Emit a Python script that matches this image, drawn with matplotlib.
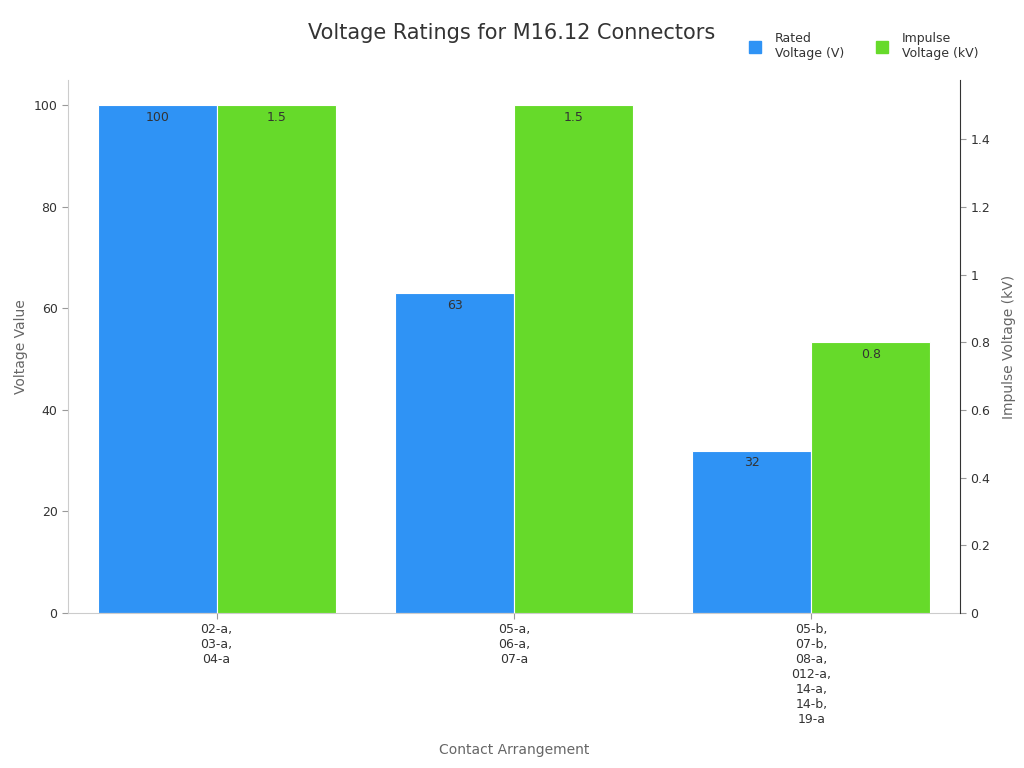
import matplotlib
matplotlib.use("Agg")
import matplotlib.pyplot as plt
import numpy as np
from matplotlib.lines import Line2D

categories = ["02-a,\n03-a,\n04-a", "05-a,\n06-a,\n07-a",
              "05-b,\n07-b,\n08-a,\n012-a,\n14-a,\n14-b,\n19-a"]
rated_v = [100, 63, 32]
impulse_kv = [1.5, 1.5, 0.8]

BLUE = "#2f93f5"
GREEN = "#66da2a"
GRID = "#cccccc"
TXT = "#333333"

fig = plt.figure(figsize=(10.24, 7.68), dpi=100)
ax = fig.add_axes([0.0664, 0.2018, 0.8711, 0.694])
ax2 = ax.twinx()

x = np.arange(len(categories))
w = 0.4
b1 = ax.bar(x - w / 2, rated_v, w, color=BLUE, edgecolor="white", linewidth=0.8)
b2 = ax2.bar(x + w / 2, impulse_kv, w, color=GREEN, edgecolor="white", linewidth=0.8)

ax.set_xlim(-0.5, 2.5)
ax.set_ylim(0, 105)
ax2.set_ylim(0, 1.575)
ax.set_yticks([0, 20, 40, 60, 80, 100])
ax2.set_yticks([0, 0.2, 0.4, 0.6, 0.8, 1, 1.2, 1.4])
ax2.set_yticklabels(["0", "0.2", "0.4", "0.6", "0.8", "1", "1.2", "1.4"])
ax.set_xticks(x)
ax.set_xticklabels(categories)

for a in (ax, ax2):
    a.spines["top"].set_visible(False)
    for s in ("left", "bottom", "right"):
        a.spines[s].set_color(GRID)
    a.tick_params(colors=TXT, labelsize=9, length=4)
    a.tick_params(axis="both", color="#999999")
ax.spines["right"].set_visible(False)
ax2.spines["left"].set_visible(False)
ax2.spines["bottom"].set_visible(False)
ax2.spines["right"].set_color("#333333")

for rect, v in zip(b1, rated_v):
    ax.annotate(f"{v}", (rect.get_x() + rect.get_width() / 2, rect.get_height()),
                xytext=(0, -4), textcoords="offset points", ha="center", va="top",
                fontsize=9, color=TXT)
for rect, v in zip(b2, impulse_kv):
    ax2.annotate(f"{v}", (rect.get_x() + rect.get_width() / 2, rect.get_height()),
                 xytext=(0, -4), textcoords="offset points", ha="center", va="top",
                 fontsize=9, color=TXT)

ax.set_xlabel("Contact Arrangement", fontsize=10, color="#666666", labelpad=12)
ax.set_ylabel("Voltage Value", fontsize=10, color="#666666")
ax2.set_ylabel("Impulse Voltage (kV)", fontsize=10, color="#666666", labelpad=8)

fig.text(0.5, 0.957, "Voltage Ratings for M16.12 Connectors", ha="center", va="center",
         fontsize=15, color=TXT)

handles = [Line2D([], [], marker="s", linestyle="", color=BLUE, markersize=8),
           Line2D([], [], marker="s", linestyle="", color=GREEN, markersize=8)]
fig.legend(handles, ["Rated\nVoltage (V)", "Impulse\nVoltage (kV)"], loc="center",
           bbox_to_anchor=(0.84, 0.94), ncol=2, frameon=False, fontsize=9,
           handletextpad=0.6, columnspacing=2.0, labelcolor=TXT)

fig.savefig("out.png", dpi=100)
